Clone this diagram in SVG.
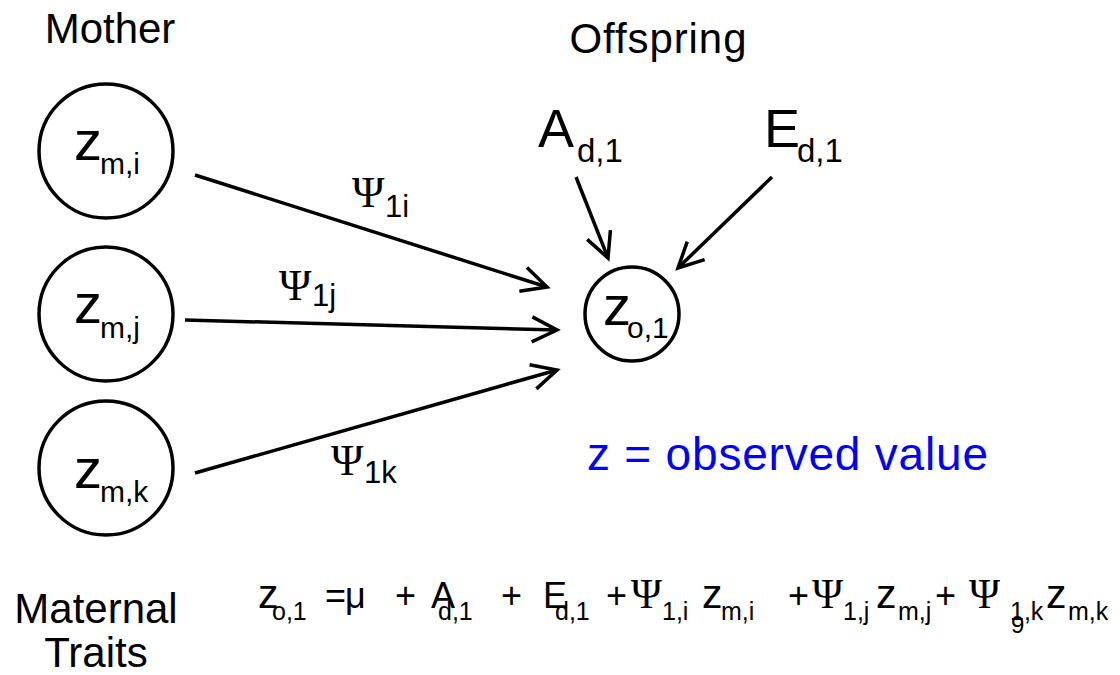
<svg xmlns="http://www.w3.org/2000/svg" width="1120" height="675" viewBox="0 0 1120 675">
<defs>
<style>
text{font-family:"Liberation Sans","DejaVu Sans",sans-serif;fill:#000}
.node{fill:none;stroke:#000;stroke-width:3.5}
.z{font-size:56px}
.zs{font-size:30px}
.hd{font-size:42px}
.big{font-size:54px}
.bs{font-size:33px}
.psi{font-family:"Liberation Serif","DejaVu Serif",serif;font-size:44px}
.ps{font-size:31px}
.em{font-size:36px}
.ez{font-size:41px}
.es{font-size:25px}
.epsi{font-family:"Liberation Serif","DejaVu Serif",serif;font-size:42px}
.conn line{stroke:#000;stroke-width:3.5;marker-end:url(#arr)}
</style>
<marker id="arr" markerUnits="userSpaceOnUse" viewBox="-30 -16 34 32" refX="0" refY="0" markerWidth="34" markerHeight="32" orient="auto">
<path d="M-25,-12.5 L0,0 L-25,12.5" fill="none" stroke="#000" stroke-width="3.5" stroke-linejoin="miter"/>
</marker>
</defs>
<rect width="1120" height="675" fill="#fff"/>

<text class="hd" x="110" y="43" text-anchor="middle">Mother</text>
<text class="hd" x="658" y="53" text-anchor="middle" textLength="177">Offspring</text>

<g id="zmi">
<circle class="node" cx="106" cy="151" r="67"/>
<text class="z" x="74" y="160">z</text><text class="zs" x="100" y="174">m,i</text>
</g>
<g id="zmj">
<circle class="node" cx="106" cy="314" r="67"/>
<text class="z" x="74" y="323">z</text><text class="zs" x="100" y="338">m,j</text>
</g>
<g id="zmk">
<circle class="node" cx="106" cy="468" r="67"/>
<text class="z" x="74" y="488">z</text><text class="zs" x="100" y="502">m,k</text>
</g>
<g id="zo1">
<circle class="node" cx="632" cy="314" r="47"/>
<text class="z" x="603" y="325">z</text><text class="zs" x="627" y="338">o,1</text>
</g>
<g id="Ad1">
<text class="big" x="538" y="147">A</text><text class="bs" x="577" y="162">d,1</text>
</g>
<g id="Ed1">
<text class="big" x="764" y="147">E</text><text class="bs" x="797" y="162">d,1</text>
</g>

<g id="connectors" class="conn">
<line x1="195" y1="175" x2="547" y2="287"/>
<line x1="185" y1="320" x2="557" y2="330"/>
<line x1="195" y1="473" x2="557" y2="370"/>
<line x1="576" y1="177" x2="608" y2="258"/>
<line x1="772" y1="177" x2="678" y2="268"/>
</g>

<g id="labels">
<text class="psi" x="352" y="207">Ψ</text><text class="ps" x="385" y="217">1i</text>
<text class="psi" x="279" y="300">Ψ</text><text class="ps" x="312" y="306">1j</text>
<text class="psi" x="331" y="475">Ψ</text><text class="ps" x="364" y="483">1k</text>
</g>

<text x="587" y="470" font-size="46" fill="#0000ff" style="fill:#0000ff" textLength="401">z = observed value</text>

<text class="hd" x="96" y="623" text-anchor="middle">Maternal</text>
<text class="hd" x="96" y="667" text-anchor="middle">Traits</text>

<g id="equation">
<text class="ez" x="258" y="608">z</text><text class="es" x="272" y="620">o,1</text>
<text class="em" x="325" y="608">=</text>
<text class="em" x="345" y="608">μ</text>
<text class="em" x="395" y="608">+</text>
<text class="em" x="431" y="608">A</text><text class="es" x="438" y="620">d,1</text>
<text class="em" x="501" y="608">+</text>
<text class="em" x="543" y="608">E</text><text class="es" x="555" y="620">d,1</text>
<text class="em" x="606" y="608">+</text>
<text class="epsi" x="631" y="608">Ψ</text><text class="es" x="662" y="620">1,i</text>
<text class="ez" x="702" y="608">z</text><text class="es" x="721" y="620">m,i</text>
<text class="em" x="788" y="608">+</text>
<text class="epsi" x="812" y="608">Ψ</text><text class="es" x="843" y="620">1,j</text>
<text class="ez" x="876" y="608">z</text><text class="es" x="898" y="620">m,j</text>
<text class="em" x="935" y="608">+</text>
<text class="epsi" x="969" y="608">Ψ</text><text class="es" x="1010" y="620">1,k</text>
<text class="ez" x="1046" y="608">z</text><text class="es" x="1068" y="620">m,k</text>
</g>
<text x="1011" y="633" font-size="24">9</text>
</svg>
